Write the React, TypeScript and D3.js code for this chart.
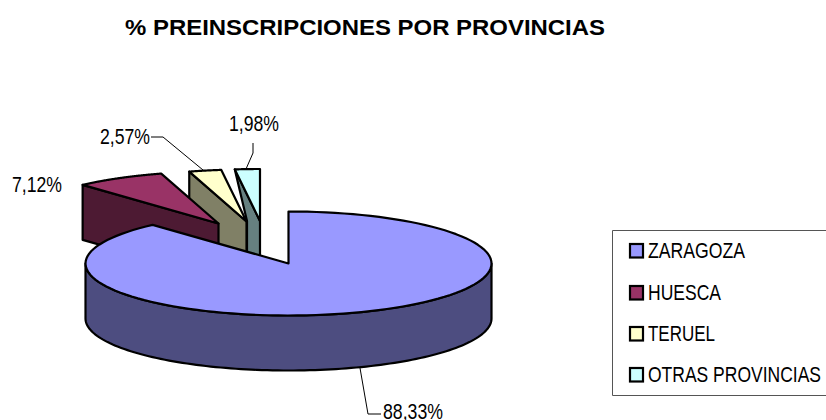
import React from "react";
import * as d3 from "d3";

const categories = ["ZARAGOZA", "HUESCA", "TERUEL", "OTRAS PROVINCIAS"];
const values = [88.33, 7.12, 2.57, 1.98];
const labels = ["88,33%", "7,12%", "2,57%", "1,98%"];
const topColors = ["#9999ff", "#993366", "#ffffcc", "#ccffff"];
const wallColors = ["#4d4d80", "#4d1a33", "#808066", "#668080"];
const explode: [number, number][] = [[0, 0], [-70, -40], [-42, -42], [-28.5, -42.5]];

const cx = 288.5, cy = 263.5, rx = 203, ry = 52, depth = 55;
const xs = d3.scaleLinear().domain([-1, 1]).range([-rx, rx]);
const ys = d3.scaleLinear().domain([-1, 1]).range([-ry, ry]);
const arcs = d3.pie<number>().sort(null)(values);
const line = d3.line();

function rim(a: number, dx = 0, dy = 0): [number, number] {
  return [cx + dx + xs(Math.sin(a)), cy + dy + ys(-Math.cos(a))];
}
function rimPts(a0: number, a1: number, dx = 0, dy = 0, n = 120) {
  return d3.range(n + 1).map((i) => rim(a0 + ((a1 - a0) * i) / n, dx, dy));
}

const K = "#000";
const SW = 2.2;

function Slice({ i }: { i: number }) {
  const a = arcs[i];
  const [dx, dy] = explode[i];
  const ax = cx + dx, ay = cy + dy;
  const s = rim(a.startAngle, dx, dy);
  const wallPts: [number, number][] =
    i === 3
      ? [[s[0], s[1]], [ax, ay], [ax, ay + depth], [ax - 13, ay + depth], [ax - 13, ay]]
      : [[s[0], s[1]], [ax, ay], [ax, ay + depth], [s[0], s[1] + depth]];
  return (
    <g stroke={K} strokeWidth={SW} strokeLinejoin="round">
      <path d={line(wallPts) + "Z"} fill={wallColors[i]} />
      <path d={line([...rimPts(a.startAngle, a.endAngle, dx, dy), [ax, ay]]) + "Z"} fill={topColors[i]} />
    </g>
  );
}

const legendTextWidths = [97, 73, 67, 173];
const legendBaselines = [258, 300, 341, 382];
const labelBoxes: [number, number, number][] = [[383, 419, 60], [12, 192, 50], [100, 144, 50], [229, 131, 50]];

export default function App() {
  const m = arcs[0];
  const side = [...rimPts(Math.PI / 2, (3 * Math.PI) / 2), ...rimPts((3 * Math.PI) / 2, Math.PI / 2, 0, depth)];
  const font = "'Liberation Sans', Arial, sans-serif";
  return (
    <svg width={826} height={420} style={{ position: "absolute", left: 0, top: 0, background: "#fff" }} fontFamily={font}>
      <text x={125} y={34.5} fontSize={22.5} fontWeight="bold" textLength={480} lengthAdjust="spacingAndGlyphs" fill="#000">
        % PREINSCRIPCIONES POR PROVINCIAS
      </text>

      <Slice i={3} />
      <Slice i={2} />
      <Slice i={1} />

      <g stroke={K} strokeWidth={SW} strokeLinejoin="round">
        <path d={line(side) + "Z"} fill={wallColors[0]} />
        <path d={line([...rimPts(m.startAngle, m.endAngle), [cx, cy]]) + "Z"} fill={topColors[0]} />
      </g>

      <g fill="none" stroke="#000" strokeWidth={1}>
        <path d="M360,368L368,414L381,414" />
        <path d="M151,137L163,137L203,170" />
        <path d="M253,143L253,153L246,169" />
      </g>

      <g fontSize={21.5} fill="#000">
        {labels.map((l, i) => (
          <text key={l} x={labelBoxes[i][0]} y={labelBoxes[i][1]} textLength={labelBoxes[i][2]} lengthAdjust="spacingAndGlyphs">{l}</text>
        ))}
      </g>

      <path d="M826,230.5L612.5,230.5L612.5,395.5L826,395.5" fill="none" stroke="#555" strokeWidth={1} />
      {categories.map((c, i) => (
        <g key={c}>
          <rect x={630} y={legendBaselines[i] - 14} width={13} height={13.5} fill={topColors[i]} stroke="#000" strokeWidth={2.2} />
          <text x={648} y={legendBaselines[i]} fontSize={21.5} fill="#000" textLength={legendTextWidths[i]} lengthAdjust="spacingAndGlyphs">{c}</text>
        </g>
      ))}
    </svg>
  );
}
